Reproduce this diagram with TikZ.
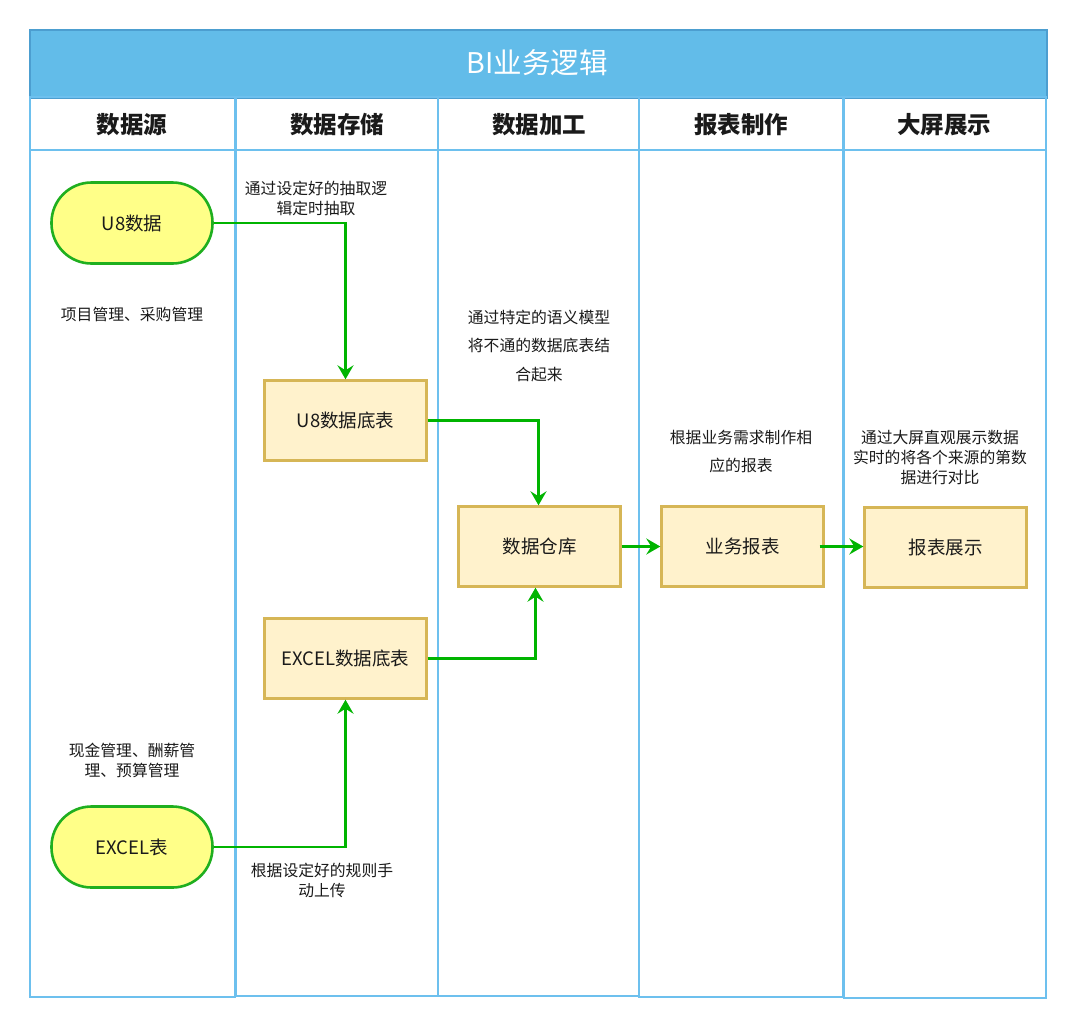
\documentclass[tikz,border=0pt]{standalone}
\usepackage{fontspec}
\setmainfont{Noto Sans CJK SC}
\usetikzlibrary{arrows.meta}
\definecolor{lanec}{HTML}{6DC0EE}
\definecolor{titlef}{HTML}{62BCE9}
\definecolor{titled}{HTML}{4C9ED0}
\definecolor{gline}{HTML}{00B400}
\definecolor{stadf}{HTML}{FFFF88}
\definecolor{stadd}{HTML}{1FAF1F}
\definecolor{boxf}{HTML}{FFF2CC}
\definecolor{boxd}{HTML}{D6B656}
\definecolor{txt}{HTML}{1A1A1A}
\tikzset{
  lane/.style={draw=lanec, line width=2.8pt},
  stad/.style={draw=stadd, fill=stadf, line width=2.6pt, rounded corners=40pt, minimum width=161pt, minimum height=81pt, font=\fontsize{18.5}{22}\selectfont, text=txt},
  box/.style={draw=boxd, fill=boxf, line width=2.4pt, minimum width=162pt, minimum height=80pt, font=\fontsize{18.5}{22}\selectfont, text=txt},
  hdr/.style={font=\fontsize{23.5}{26}\selectfont\bfseries, text=txt},
  note/.style={font=\fontsize{15.8}{20}\selectfont, text=txt, align=center},
  flow/.style={draw=gline, line width=2.4pt, -{Stealth[length=14pt,width=16pt,inset=5pt]}},
}
\begin{document}
\begin{tikzpicture}[x=1pt,y=-1pt]
\useasboundingbox (0,0) rectangle (1074,1026);
\fill[white] (0,0) rectangle (1074,1026);
% title
\node[draw=titled, fill=titlef, line width=2pt, minimum width=1017pt, minimum height=68pt, anchor=north west, inner sep=0pt] (title) at (29,29) {};
\node[text=white, font=\fontsize{28.5}{32}\selectfont] (titletext) at (537,63) {BI业务逻辑};
% lanes
\draw[lane] (30,97) rectangle (235,997);
\draw[lane] (30,150) -- (235,150);
\draw[lane] (236,97) rectangle (438,996);
\draw[lane] (236,150) -- (438,150);
\draw[lane] (438,97) rectangle (639,996);
\draw[lane] (438,150) -- (639,150);
\draw[lane] (639,97) rectangle (843,997);
\draw[lane] (639,150) -- (843,150);
\draw[lane] (844,97) rectangle (1046,998);
\draw[lane] (844,150) -- (1046,150);
% headers
\node[hdr] (h1) at (132,125) {数据源};
\node[hdr] (h2) at (337,125) {数据存储};
\node[hdr] (h3) at (539,125) {数据加工};
\node[hdr] (h4) at (741,125) {报表制作};
\node[hdr] (h5) at (944,125) {大屏展示};
% nodes
\node[stad] (u8) at (132,223) {U8数据};
\node[stad] (excel) at (132,847) {EXCEL表};
\node[box] (u8t) at (345.5,420.5) {U8数据底表};
\node[box] (exct) at (345.5,658.5) {EXCEL数据底表};
\node[box] (dw) at (539.5,546.5) {数据仓库};
\node[box] (rpt) at (742.5,546.5) {业务报表};
\node[box] (show) at (945.5,547.5) {报表展示};
% notes
\node[note] (n1) at (316,198) {通过设定好的抽取逻\\辑定时抽取};
\node[note] (n2) at (132,314) {项目管理、采购管理};
\node[note, font=\fontsize{15.8}{28.5}\selectfont] (n3) at (539,345.5) {通过特定的语义模型\\将不通的数据底表结\\合起来};
\node[note, font=\fontsize{15.8}{28}\selectfont] (n4) at (741,452) {根据业务需求制作相\\应的报表};
\node[note] (n5) at (940,457.5) {通过大屏直观展示数据\\实时的将各个来源的第数\\据进行对比};
\node[note] (n6) at (132,760) {现金管理、酬薪管\\理、预算管理};
\node[note] (n7) at (322,880.5) {根据设定好的规则手\\动上传};
% connectors
\draw[flow] (u8.east) -| (u8t.north);
\draw[flow] (u8t.east) -| ([xshift=-1pt]dw.north);
\draw[flow] (exct.east) -| ([xshift=-4pt]dw.south);
\draw[flow] (excel.east) -| (exct.south);
\draw[flow] (dw.east) -- (rpt.west);
\draw[flow] ([xshift=-5pt]rpt.east) -- (rpt.east -| show.west);
\end{tikzpicture}
\end{document}
